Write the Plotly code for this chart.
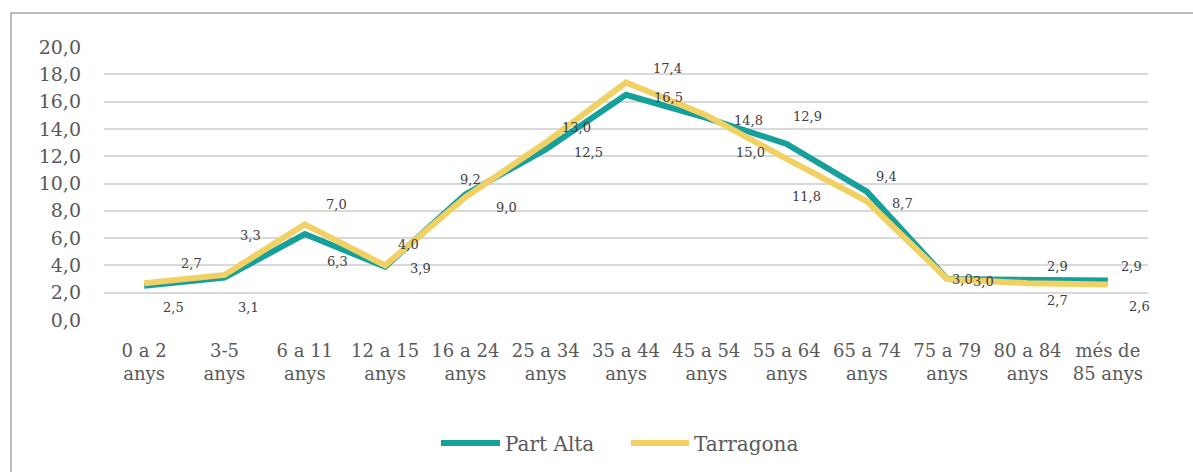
import plotly.graph_objects as go

# Age groups (two-line tick labels)
categories = [
    "0 a 2<br>anys", "3-5<br>anys", "6 a 11<br>anys", "12 a 15<br>anys",
    "16 a 24<br>anys", "25 a 34<br>anys", "35 a 44<br>anys", "45 a 54<br>anys",
    "55 a 64<br>anys", "65 a 74<br>anys", "75 a 79<br>anys", "80 a 84<br>anys",
    "més de<br>85 anys",
]

# Share of population (%) per age group
part_alta = [2.5, 3.1, 6.3, 3.9, 9.2, 12.5, 16.5, 14.8, 12.9, 9.4, 3.0, 2.9, 2.9]
tarragona = [2.7, 3.3, 7.0, 4.0, 9.0, 13.0, 17.4, 15.0, 11.8, 8.7, 3.0, 2.7, 2.6]

y_ticks = [0, 2, 4, 6, 8, 10, 12, 14, 16, 18, 20]

TEAL = "#16A09B"
YELLOW = "#F1D064"
TEXT = "#595959"
FONT = "DejaVu Serif"

# Pixel offsets of each value label relative to its point
part_alta_offsets = [(29, -22), (24, -30), (33, -27), (35, -2), (5, 15), (43, -3),
                     (42, -3), (42, -3), (21, 27), (20, 15), (15, 0), (30, 14), (24, 14)]
tarragona_offsets = [(47, 20), (26, 39), (32, 20), (23, 21), (41, -10), (31, 15),
                     (41, 14), (44, -37), (20, -38), (36, -2), (36, -2), (30, -17), (32, -22)]

fig = go.Figure()
fig.add_trace(go.Scatter(x=categories, y=part_alta, mode="lines", name="Part Alta",
                         line=dict(color=TEAL, width=6), showlegend=False))
fig.add_trace(go.Scatter(x=categories, y=tarragona, mode="lines", name="Tarragona",
                         line=dict(color=YELLOW, width=6), showlegend=False))

annotations = []
for series, offsets in ((part_alta, part_alta_offsets), (tarragona, tarragona_offsets)):
    for cat, val, (dx, dy) in zip(categories, series, offsets):
        annotations.append(dict(
            x=cat, y=val, xref="x", yref="y",
            text=f"{val:.1f}".replace(".", ","),
            showarrow=False, xshift=dx, yshift=dy,
            font=dict(family=FONT, size=13, color="#404040"),
        ))

# Plot area geometry in pixels, used for the legend and frame
L, R, T, B = 104, 1148, 47, 320
def px(x):
    return (x - L) / (R - L)
def py(y):
    return (B - y) / (B - T)

legend_y = 443
legend_items = [("Part Alta", TEAL, 441, 500, 503), ("Tarragona", YELLOW, 631, 689, 692)]
shapes = [
    dict(type="rect", xref="paper", yref="paper",
         x0=px(11), x1=px(1210), y0=py(13), y1=py(490),
         line=dict(color="#A6A6A6", width=1.5), fillcolor="rgba(0,0,0,0)", layer="below"),
]
for label, color, x0, x1, tx in legend_items:
    shapes.append(dict(type="line", xref="paper", yref="paper",
                       x0=px(x0), x1=px(x1), y0=py(legend_y), y1=py(legend_y),
                       line=dict(color=color, width=6)))
    annotations.append(dict(x=px(tx), y=py(legend_y + 1), xref="paper", yref="paper",
                            text=label, showarrow=False, xanchor="left", yanchor="middle",
                            font=dict(family=FONT, size=20, color=TEXT)))

fig.update_layout(
    width=1193, height=472,
    margin=dict(l=L, r=1193 - R, t=T, b=472 - B),
    paper_bgcolor="white", plot_bgcolor="white",
    separators=",.",
    font=dict(family=FONT, color=TEXT),
    shapes=shapes,
    annotations=annotations,
    xaxis=dict(
        showgrid=False, showline=False, zeroline=False, ticks="",
        tickfont=dict(family=FONT, size=18, color=TEXT),
        ticklabelstandoff=18,
        range=[-0.5, len(categories) - 0.5],
    ),
    yaxis=dict(
        range=[0, 20], tickvals=y_ticks, tickformat=".1f",
        showgrid=True, gridcolor="#D9D9D9", gridwidth=1.5,
        zeroline=False, showline=False, ticks="",
        tickfont=dict(family=FONT, size=19, color=TEXT),
        ticklabelstandoff=22,
    ),
)

fig.write_html("out.html")
